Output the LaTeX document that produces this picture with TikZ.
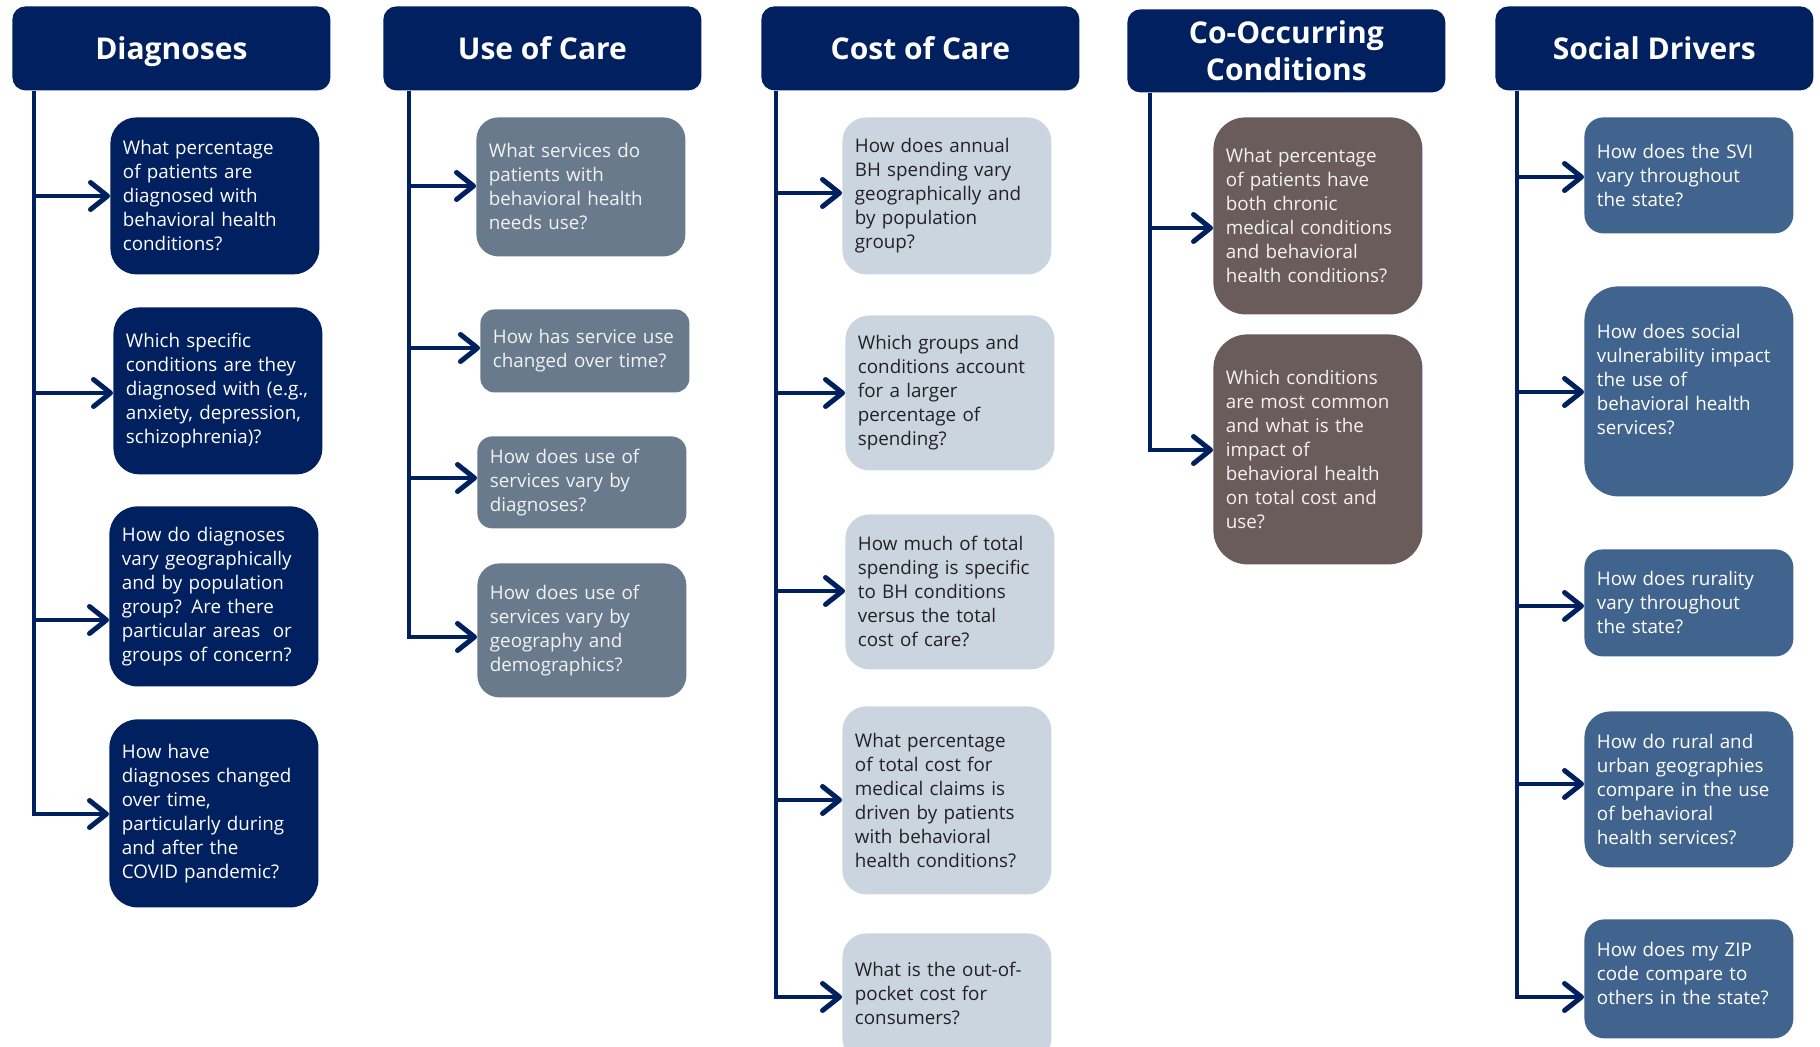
\documentclass[tikz,border=0pt]{standalone}
\usepackage{fontspec}
\setmainfont{Open Sans}
\usetikzlibrary{arrows.meta}
\definecolor{NavyClr}{HTML}{002060}
\definecolor{UseClr}{HTML}{697A8C}
\definecolor{CostClr}{HTML}{CBD5E0}
\definecolor{CoClr}{HTML}{6A5C5B}
\definecolor{SocClr}{HTML}{41648F}
\definecolor{DarkTxt}{HTML}{222222}

\begin{document}
\begin{tikzpicture}[x=0.5pt,y=-0.5pt,
  head/.style={fill=NavyClr,text=white,font=\fontsize{15}{18.5}\selectfont\bfseries,align=center,
    anchor=north west,minimum width=159pt,minimum height=42pt,rounded corners=6.5pt,inner sep=1pt},
  head1/.style={head,text height=14.5pt,text depth=3.6pt},
  qbox/.style={anchor=north west,text width=92pt,inner xsep=6.25pt,inner ysep=1pt,align=left,
    rounded corners=12pt,font=\fontsize{9.4}{12}\selectfont},
  lift/.style={execute at end node={\endgraf\vspace{#1}}},
  diag/.style={qbox,fill=NavyClr,text=white},
  usec/.style={qbox,fill=UseClr,text=white!95!black},
  cost/.style={qbox,fill=CostClr,text=DarkTxt},
  cooc/.style={qbox,fill=CoClr,text=white!95!black},
  soc/.style={qbox,fill=SocClr,text=white},
  trunk/.style={draw=NavyClr,line width=2pt},
  branch/.style={trunk,-{Straight Barb[length=8.5pt,width=13.5pt,line width=2.5pt,round]}}]

\useasboundingbox (0,0) rectangle (1820,1047);

\node[head1] (hD) at (12,6) {Diagnoses};
\node[head1] (hU) at (383,6) {Use of Care};
\node[head1] (hC) at (761,6) {Cost of Care};
\node[head,minimum height=41.5pt] (hO) at (1127,9) {Co-Occurring\\Conditions};
\node[head1] (hS) at (1495,6) {Social Drivers};

\node[diag,minimum height=78.5pt,rounded corners=13pt] (d1) at (110,117) {What percentage\\of patients are\\diagnosed with\\behavioral health\\conditions?};
\node[diag,minimum height=83.5pt,rounded corners=13pt] (d2) at (113,307) {Which specific\\conditions are they\\diagnosed with (e.g.,\\anxiety, depression,\\schizophrenia)?};
\node[diag,minimum height=90pt,rounded corners=14pt] (d3) at (109,506) {How do diagnoses\\vary geographically\\and by population\\group? Are there\\particular areas~ or\\groups of concern?};
\node[diag,minimum height=94pt,rounded corners=14pt] (d4) at (109,719) {How have\\diagnoses changed\\over time,\\particularly during\\and after the\\COVID pandemic?};

\node[usec,minimum height=69.5pt,rounded corners=11pt] (u1) at (476,117) {What services do\\patients with\\behavioral health\\needs use?};
\node[usec,minimum height=41.5pt,rounded corners=7pt] (u2) at (480,309) {How has service use\\changed over time?};
\node[usec,minimum height=46pt,rounded corners=7.5pt] (u3) at (477,436) {How does use of\\services vary by\\diagnoses?};
\node[usec,minimum height=67pt,rounded corners=11pt] (u4) at (477,563) {How does use of\\services vary by\\geography and\\demographics?};

\node[cost,minimum height=78.5pt] (c1) at (842,117) {How does annual\\BH spending vary\\geographically and\\by population\\group?};
\node[cost,minimum height=77.5pt] (c2) at (845,315) {Which groups and\\conditions account\\for a larger\\percentage of\\spending?};
\node[cost,minimum height=77.5pt] (c3) at (845,514) {How much of total\\spending is specific\\to BH conditions\\versus the total\\cost of care?};
\node[cost,minimum height=94pt] (c4) at (842,706) {What percentage\\of total cost for\\medical claims is\\driven by patients\\with behavioral\\health conditions?};
\node[cost,minimum height=64.5pt,lift=4pt] (c5) at (842,933) {What is the out-of-\\pocket cost for\\consumers?};

\node[cooc,minimum height=98.5pt,rounded corners=16pt] (o1) at (1213,117) {What percentage\\of patients have\\both chronic\\medical conditions\\and behavioral\\health conditions?};
\node[cooc,minimum height=115pt,rounded corners=17pt] (o2) at (1213,334) {Which conditions\\are most common\\and what is the\\impact of\\behavioral health\\on total cost and\\use?};

\node[soc,minimum height=58pt,rounded corners=9.5pt] (s1) at (1584,117) {How does the SVI\\vary throughout\\the state?};
\node[soc,minimum height=105pt,rounded corners=17pt,lift=11.6pt] (s2) at (1584,286) {How does social\\vulnerability impact\\the use of\\behavioral health\\services?};
\node[soc,minimum height=53.5pt,rounded corners=9pt] (s3) at (1584,549) {How does rurality\\vary throughout\\the state?};
\node[soc,minimum height=78pt,rounded corners=13pt] (s4) at (1584,711) {How do rural and\\urban geographies\\compare in the use\\of behavioral\\health services?};
\node[soc,minimum height=59.5pt,rounded corners=10pt,lift=5pt] (s5) at (1584,919) {How does my ZIP\\code compare to\\others in the state?};

\coordinate (tD1) at (34,196);
\coordinate (tD2) at (34,393);
\coordinate (tD3) at (34,620);
\coordinate (tD4) at (34,814);
\coordinate (tU1) at (409,186);
\coordinate (tU2) at (409,348);
\coordinate (tU3) at (409,478);
\coordinate (tU4) at (409,637);
\coordinate (tC1) at (776,193);
\coordinate (tC2) at (776,393);
\coordinate (tC3) at (776,591);
\coordinate (tC4) at (776,800);
\coordinate (tC5) at (776,997);
\coordinate (tO1) at (1150,228);
\coordinate (tO2) at (1150,450);
\coordinate (tS1) at (1517,177);
\coordinate (tS2) at (1517,392);
\coordinate (tS3) at (1517,606);
\coordinate (tS4) at (1517,784);
\coordinate (tS5) at (1517,997);

\draw[branch] (hD.south -| tD4) -- (tD4) -- (tD4 -| d4.west);
\draw[branch] (tD1) -- (tD1 -| d1.west);
\draw[branch] (tD2) -- (tD2 -| d2.west);
\draw[branch] (tD3) -- (tD3 -| d3.west);

\draw[branch] (hU.south -| tU4) -- (tU4) -- (tU4 -| u4.west);
\draw[branch] (tU1) -- (tU1 -| u1.west);
\draw[branch] (tU2) -- (tU2 -| u2.west);
\draw[branch] (tU3) -- (tU3 -| u3.west);

\draw[branch] (hC.south -| tC5) -- (tC5) -- (tC5 -| c5.west);
\draw[branch] (tC1) -- (tC1 -| c1.west);
\draw[branch] (tC2) -- (tC2 -| c2.west);
\draw[branch] (tC3) -- (tC3 -| c3.west);
\draw[branch] (tC4) -- (tC4 -| c4.west);

\draw[branch] (hO.south -| tO2) -- (tO2) -- (tO2 -| o2.west);
\draw[branch] (tO1) -- (tO1 -| o1.west);

\draw[branch] (hS.south -| tS5) -- (tS5) -- (tS5 -| s5.west);
\draw[branch] (tS1) -- (tS1 -| s1.west);
\draw[branch] (tS2) -- (tS2 -| s2.west);
\draw[branch] (tS3) -- (tS3 -| s3.west);
\draw[branch] (tS4) -- (tS4 -| s4.west);

\end{tikzpicture}
\end{document}
